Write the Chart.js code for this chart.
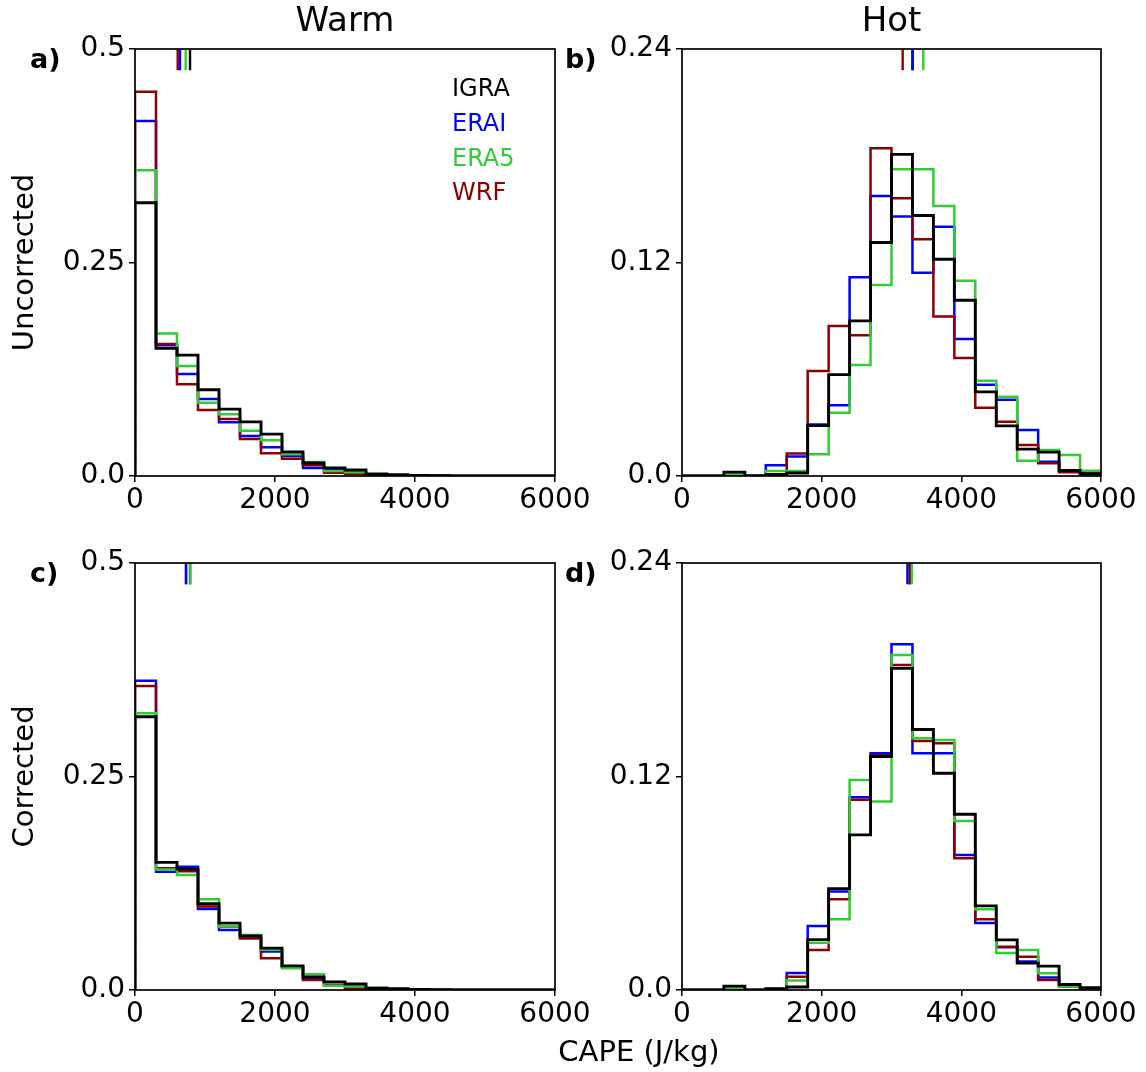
<!DOCTYPE html>
<html>
<head>
<meta charset="utf-8">
<script src="https://cdn.jsdelivr.net/npm/chart.js@4.4.1/dist/chart.umd.min.js"></script>
<style>
  html, body { margin: 0; padding: 0; background: #ffffff; }
  #wrap { position: relative; width: 1146px; height: 1072px; }
  canvas { position: absolute; left: 0; top: 0; }
</style>
</head>
<body>
<div id="wrap">
  <canvas id="ca" width="1146" height="1072"></canvas>
  <canvas id="cb" width="1146" height="1072"></canvas>
  <canvas id="cc" width="1146" height="1072"></canvas>
  <canvas id="cd" width="1146" height="1072"></canvas>
</div>
<script>
// ---------------- DATA ----------------
const binEdges = [0,300,600,900,1200,1500,1800,2100,2400,2700,3000,3300,3600,3900,4200,4500,4800,5100,5400,5700,6000];
const xTicks = [0, 2000, 4000, 6000];
const warmYTicks = [0, 0.25, 0.5];
const warmYLabels = ["0.0", "0.25", "0.5"];
const hotYTicks = [0, 0.12, 0.24];
const hotYLabels = ["0.0", "0.12", "0.24"];
const seriesNames = ["IGRA", "ERAI", "ERA5", "WRF"];
const columnTitles = ["Warm", "Hot"];
const rowLabels = ["Uncorrected", "Corrected"];
const panelLetters = ["a)", "b)", "c)", "d)"];
const xAxisLabel = "CAPE (J/kg)";

// Warm regime (20 bins of 300 J/kg)
const warmIGRA    = [0.320, 0.1495, 0.1415, 0.1010, 0.0783, 0.0634, 0.0490, 0.0283, 0.0152, 0.0095, 0.0070, 0.0020, 0.0015, 0.0005, 0.0003, 0, 0, 0, 0, 0];
const warmUncERAI = [0.4157, 0.1530, 0.1194, 0.0902, 0.0628, 0.0468, 0.0336, 0.0234, 0.0094, 0.0070, 0.0040, 0.0020, 0.0010, 0.0005, 0.0003, 0, 0, 0, 0, 0];
const warmUncERA5 = [0.358, 0.1670, 0.1288, 0.0859, 0.0722, 0.0530, 0.0420, 0.0254, 0.0165, 0.0060, 0.0043, 0.0030, 0.0010, 0.0005, 0, 0, 0, 0, 0, 0];
const warmUncWRF  = [0.450, 0.1546, 0.1073, 0.0773, 0.0667, 0.0433, 0.0265, 0.0203, 0.0125, 0.0039, 0.0020, 0.0010, 0.0008, 0.0010, 0.0003, 0, 0, 0, 0, 0];
const warmCorERAI = [0.362, 0.1386, 0.1444, 0.0948, 0.0703, 0.0605, 0.0450, 0.0270, 0.0130, 0.0060, 0.0030, 0.0015, 0.0010, 0.0005, 0, 0, 0, 0, 0, 0];
const warmCorERA5 = [0.324, 0.1410, 0.1347, 0.1062, 0.0745, 0.0644, 0.0470, 0.0254, 0.0184, 0.0050, 0.0040, 0.0027, 0.0010, 0.0010, 0, 0, 0, 0, 0, 0];
const warmCorWRF  = [0.356, 0.1425, 0.1390, 0.0977, 0.0742, 0.0605, 0.0371, 0.0270, 0.0117, 0.0060, 0.0016, 0.0010, 0.0008, 0.0005, 0, 0, 0, 0, 0, 0];

// Hot regime
const hotIGRA    = [0, 0, 0.0022, 0, 0.0008, 0.0017, 0.0283, 0.0570, 0.0872, 0.1312, 0.1808, 0.1464, 0.1218, 0.0988, 0.0473, 0.0282, 0.0151, 0.0134, 0.0031, 0.0013];
const hotUncERAI = [0, 0, 0.0006, 0.0003, 0.0060, 0.0110, 0.0290, 0.0397, 0.1117, 0.1574, 0.1458, 0.1143, 0.1401, 0.0770, 0.0513, 0.0429, 0.0259, 0.0080, 0.0030, 0.0008];
const hotUncERA5 = [0, 0, 0.0012, 0, 0.0028, 0.0028, 0.0122, 0.0356, 0.0624, 0.1074, 0.1724, 0.1724, 0.1518, 0.1098, 0.0535, 0.0446, 0.0086, 0.0146, 0.0118, 0.0030];
const hotUncWRF  = [0, 0, 0.0005, 0, 0.0010, 0.0127, 0.0590, 0.0843, 0.0791, 0.1842, 0.1561, 0.1330, 0.0896, 0.0663, 0.0384, 0.0305, 0.0174, 0.0071, 0.0021, 0.0025];
const hotCorERAI = [0, 0, 0.0005, 0, 0.0005, 0.0096, 0.0360, 0.0553, 0.1083, 0.1330, 0.1943, 0.1330, 0.1330, 0.0759, 0.0377, 0.0240, 0.0160, 0.0070, 0.0020, 0.0010];
const hotCorERA5 = [0, 0, 0.0007, 0, 0.0003, 0.0054, 0.0266, 0.0397, 0.1180, 0.1059, 0.1883, 0.1415, 0.1405, 0.0950, 0.0454, 0.0208, 0.0225, 0.0094, 0.0020, 0.0010];
const hotCorWRF  = [0, 0, 0.0005, 0, 0.0003, 0.0075, 0.0225, 0.0510, 0.1070, 0.1320, 0.1827, 0.1400, 0.1387, 0.0740, 0.0397, 0.0243, 0.0187, 0.0056, 0.0019, 0.0010];

// Means (J/kg) shown as short ticks at the top: [IGRA, ERAI, ERA5, WRF]
const warmUncMeans = [786, 643, 724, 610];
const warmCorMeans = [786, 729, 790, 729];
const hotUncMeans  = [3300, 3304, 3456, 3160];
const hotCorMeans  = [3262, 3228, 3292, 3262];

// ---------------- STYLE ----------------
const COLORS = { IGRA: "#000000", ERAI: "#0000ff", ERA5: "#32cd32", WRF: "#8b0000" };
const FONT = "'DejaVu Sans', 'Liberation Sans', sans-serif";
const W = 1146, H = 1072;

function stepData(vals) {
  const pts = [{ x: binEdges[0], y: 0 }];
  for (let i = 0; i < vals.length; i++) pts.push({ x: binEdges[i], y: vals[i] });
  pts.push({ x: binEdges[binEdges.length - 1], y: 0 });
  return pts;
}

function buildChart(id, cfg) {
  const YW = 80, XH = 46;
  const area = cfg.area;
  const hist = { IGRA: cfg.igra, ERAI: cfg.erai, ERA5: cfg.era5, WRF: cfg.wrf };
  const means = { IGRA: cfg.means[0], ERAI: cfg.means[1], ERA5: cfg.means[2], WRF: cfg.means[3] };
  const datasets = [];
  // first dataset is drawn on top in Chart.js
  ["ERA5", "ERAI", "WRF", "IGRA"].forEach(n => {
    datasets.push({
      label: n + " mean",
      data: [{ x: means[n], y: cfg.yMax }, { x: means[n], y: cfg.yMax * 0.95 }],
      borderColor: COLORS[n], borderWidth: 2.4, pointRadius: 0, fill: false
    });
  });
  ["IGRA", "ERA5", "WRF", "ERAI"].forEach(n => {
    datasets.push({
      label: n,
      data: stepData(hist[n]),
      borderColor: COLORS[n], borderWidth: n === "IGRA" ? 2.9 : 2.5,
      pointRadius: 0, fill: false, stepped: true, tension: 0
    });
  });

  const decorations = {
    id: "decor" + id,
    afterDraw(chart) {
      const ctx = chart.ctx, a = chart.chartArea;
      ctx.save();
      ctx.strokeStyle = "#000";
      ctx.lineWidth = 1.7;
      ctx.strokeRect(a.left, a.top, a.right - a.left, a.bottom - a.top);
      ctx.fillStyle = "#000";
      // panel letter
      ctx.font = "bold 27px " + FONT;
      ctx.textAlign = "left"; ctx.textBaseline = "middle";
      ctx.fillText(cfg.letter, cfg.letterX, a.top + 12);
      if (cfg.title) {
        ctx.font = "34px " + FONT;
        ctx.textAlign = "center"; ctx.textBaseline = "middle";
        ctx.fillText(cfg.title, (a.left + a.right) / 2, 22);
      }
      if (cfg.rowLabel) {
        ctx.save();
        ctx.translate(25, (a.top + a.bottom) / 2);
        ctx.rotate(-Math.PI / 2);
        ctx.font = "29px " + FONT;
        ctx.textAlign = "center"; ctx.textBaseline = "middle";
        ctx.fillText(cfg.rowLabel, 0, 0);
        ctx.restore();
      }
      if (cfg.legend) {
        ctx.font = "24px " + FONT;
        ctx.textAlign = "left"; ctx.textBaseline = "middle";
        seriesNames.forEach((n, i) => {
          ctx.fillStyle = COLORS[n];
          ctx.fillText(n, 452, 90 + i * 34.7);
        });
      }
      if (cfg.xlabel) {
        ctx.fillStyle = "#000";
        ctx.font = "29px " + FONT;
        ctx.textAlign = "center"; ctx.textBaseline = "middle";
        ctx.fillText(cfg.xlabel, 639, 1053);
      }
      ctx.restore();
    }
  };

  return new Chart(document.getElementById(id), {
    type: "line",
    data: { datasets },
    options: {
      responsive: false, animation: false, maintainAspectRatio: false,
      layout: { padding: { left: area.left - YW, right: W - area.right, top: area.top, bottom: H - area.bottom - XH } },
      plugins: { legend: { display: false }, tooltip: { enabled: false } },
      scales: {
        x: {
          type: "linear", min: 0, max: 6000,
          afterBuildTicks: s => { s.ticks = xTicks.map(v => ({ value: v })); },
          afterFit: s => { s.height = XH; },
          ticks: { color: "#000", font: { family: FONT, size: 28 }, padding: 2, maxRotation: 0, callback: v => String(v) },
          grid: { display: true, drawOnChartArea: false, drawTicks: true, tickLength: 6, color: "#000", lineWidth: 1.5 },
          border: { display: false }
        },
        y: {
          type: "linear", min: 0, max: cfg.yMax,
          afterBuildTicks: s => { s.ticks = cfg.yTicks.map(v => ({ value: v })); },
          afterFit: s => { s.width = YW; },
          ticks: { color: "#000", font: { family: FONT, size: 28 }, padding: 4,
                   callback: v => { const i = cfg.yTicks.findIndex(t => Math.abs(t - v) < 1e-9); return i >= 0 ? cfg.yLabels[i] : ""; } },
          grid: { display: true, drawOnChartArea: false, drawTicks: true, tickLength: 6, color: "#000", lineWidth: 1.5 },
          border: { display: false }
        }
      }
    },
    plugins: [decorations]
  });
}

buildChart("ca", { area: { left: 135, right: 555, top: 49, bottom: 476 }, yMax: 0.5, yTicks: warmYTicks, yLabels: warmYLabels,
  igra: warmIGRA, erai: warmUncERAI, era5: warmUncERA5, wrf: warmUncWRF, means: warmUncMeans,
  letter: panelLetters[0], letterX: 30, title: columnTitles[0], rowLabel: rowLabels[0], legend: true });
buildChart("cb", { area: { left: 682, right: 1101, top: 49, bottom: 476 }, yMax: 0.24, yTicks: hotYTicks, yLabels: hotYLabels,
  igra: hotIGRA, erai: hotUncERAI, era5: hotUncERA5, wrf: hotUncWRF, means: hotUncMeans,
  letter: panelLetters[1], letterX: 565, title: columnTitles[1] });
buildChart("cc", { area: { left: 135, right: 555, top: 563, bottom: 990 }, yMax: 0.5, yTicks: warmYTicks, yLabels: warmYLabels,
  igra: warmIGRA, erai: warmCorERAI, era5: warmCorERA5, wrf: warmCorWRF, means: warmCorMeans,
  letter: panelLetters[2], letterX: 30, rowLabel: rowLabels[1], xlabel: xAxisLabel });
buildChart("cd", { area: { left: 682, right: 1101, top: 563, bottom: 990 }, yMax: 0.24, yTicks: hotYTicks, yLabels: hotYLabels,
  igra: hotIGRA, erai: hotCorERAI, era5: hotCorERA5, wrf: hotCorWRF, means: hotCorMeans,
  letter: panelLetters[3], letterX: 565 });
</script>
</body>
</html>
